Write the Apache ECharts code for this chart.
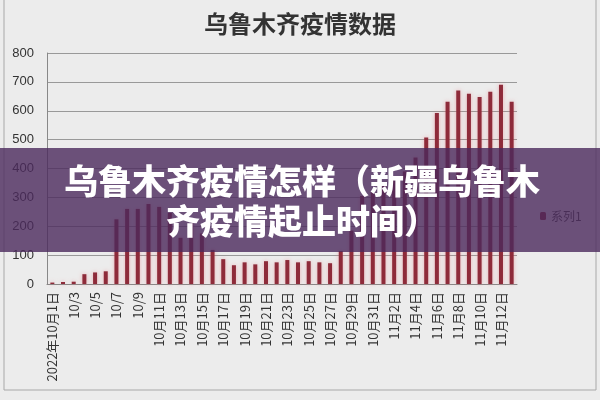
<!DOCTYPE html>
<html>
<head>
<meta charset="utf-8">
<script src="https://cdn.jsdelivr.net/npm/echarts@6/dist/echarts.min.js"></script>
<style>
html,body{margin:0;padding:0;background:#ececec;}
#c{width:600px;height:400px;}
</style>
</head>
<body>
<div id="c"></div>
<script>
var titleText = '乌鲁木齐疫情数据';
var bannerLine1 = '乌鲁木齐疫情怎样（新疆乌鲁木';
var bannerLine2 = '齐疫情起止时间）';
var seriesName = '系列1';
var categories = [
  '2022年10月1日','10/2','10/3','10/4','10/5','10/6','10/7','10/8','10/9','10/10',
  '10月11日','10月12日','10月13日','10月14日','10月15日','10月16日','10月17日','10月18日','10月19日','10月20日',
  '10月21日','10月22日','10月23日','10月24日','10月25日','10月26日','10月27日','10月28日','10月29日','10月30日',
  '10月31日','11月1日','11月2日','11月3日','11月4日','11月5日','11月6日','11月7日','11月8日','11月9日',
  '11月10日','11月11日','11月12日','11月13日'
];
var values = [
  5, 7, 8, 34, 40, 44, 224, 260, 260, 277,
  267, 246, 160, 210, 175, 118, 86, 65, 75, 68,
  79, 75, 83, 75, 79, 75, 72, 114, 185, 305,
  320, 340, 360, 390, 438, 507, 592, 631, 670, 659,
  648, 666, 690, 631
];
var yTicks = [0, 100, 200, 300, 400, 500, 600, 700, 800];

var chart = echarts.init(document.getElementById('c'));
chart.setOption({
  backgroundColor: '#ececec',
  animation: false,
  title: {
    text: titleText, left: 'center', top: 7,
    textStyle: {fontSize: 24, fontWeight: 'bold', color: '#333', fontFamily: 'Noto Sans CJK SC'}
  },
  legend: {
    data: [seriesName], orient: 'vertical', left: 535, top: 205,
    itemWidth: 6, itemHeight: 8, itemGap: 4,
    textStyle: {fontSize: 12, color: '#444', fontFamily: 'Noto Sans CJK SC'}
  },
  grid: {left: 47, right: 83, top: 53, bottom: 116},
  xAxis: {
    type: 'category', data: categories,
    axisLine: {lineStyle: {color: '#888'}},
    axisTick: {show: false},
    axisLabel: {interval: 1, rotate: 90, fontSize: 13, color: '#333', margin: 8, fontFamily: 'Noto Sans CJK SC'}
  },
  yAxis: {
    type: 'value', min: yTicks[0], max: yTicks[yTicks.length - 1], interval: 100,
    axisLine: {show: true, lineStyle: {color: '#888'}},
    axisTick: {show: false},
    splitLine: {lineStyle: {color: '#999', width: 1}},
    axisLabel: {fontSize: 13, color: '#333', margin: 13, fontFamily: 'Liberation Sans'}
  },
  series: [{
    name: seriesName, type: 'bar', data: values, barWidth: 4,
    itemStyle: {color: '#8e2b3a', shadowColor: 'rgba(235,120,130,0.55)', shadowBlur: 4}
  }],
  graphic: [
    {type: 'rect', shape: {x: 4, y: -2, width: 592, height: 392}, style: {fill: 'none', stroke: '#a8a8a8', lineWidth: 1}, z: 0, silent: true},
    {type: 'rect', shape: {x: 0, y: 148, width: 600, height: 104}, style: {fill: 'rgba(75,41,92,0.8)'}, z: 100, silent: true},
    {type: 'text', z: 101, silent: true,
      style: {x: 302, y: 181, text: bannerLine1, fill: '#fff', align: 'center', verticalAlign: 'middle', font: '900 34px "Noto Sans CJK SC"'}},
    {type: 'text', z: 101, silent: true,
      style: {x: 302, y: 221, text: bannerLine2, fill: '#fff', align: 'center', verticalAlign: 'middle', font: '900 34px "Noto Sans CJK SC"'}}
  ]
});
</script>
</body>
</html>
